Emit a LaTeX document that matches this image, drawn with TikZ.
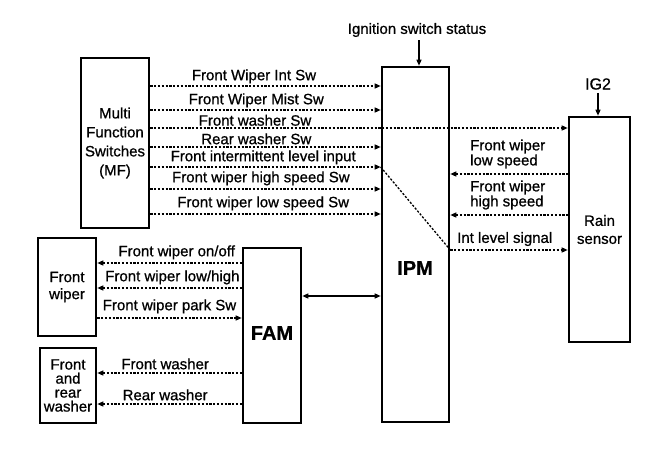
\documentclass[tikz,border=0pt]{standalone}
\usepackage{fontspec}
\setmainfont{Liberation Sans}[FakeBold=0.8]
\usetikzlibrary{arrows.meta}
\begin{document}
\begin{tikzpicture}[x=1pt,y=-1pt,
  box/.style={draw,line width=2.6pt,rectangle,inner sep=0pt,align=center},
  sig/.style={line width=1.3pt,dash pattern=on 2.2pt off 1.6pt},
  sigr/.style={sig,-{Triangle[length=6pt,width=5pt]}},
  sigl/.style={sig,{Triangle[length=6pt,width=5pt]}-},
  lab/.style={inner sep=0pt,font=\fontsize{15}{16}\selectfont},
  big/.style={inner sep=0pt,font=\fontsize{20}{22}\selectfont\bfseries}]
\useasboundingbox (0,0) rectangle (672,456);
% boxes
\node[box,minimum width=68pt,minimum height=170pt,font=\fontsize{15}{19}\selectfont] (mf) at (115,143) {Multi\\Function\\Switches\\(MF)};
\node[box,minimum width=67pt,minimum height=355pt] (ipm) at (415.5,244.5) {};
\node[big] (ipmt) at (415,268) {IPM};
\node[box,minimum width=61pt,minimum height=225pt,font=\fontsize{15}{18}\selectfont] (rain) at (599.5,229.5) {Rain\\sensor};
\node[box,minimum width=58pt,minimum height=98pt,font=\fontsize{15}{17}\selectfont] (fw) at (67,287) {Front\\wiper};
\node[box,minimum width=56pt,minimum height=75pt,font=\fontsize{15}{14}\selectfont] (wash) at (68,385.5) {Front\\and\\rear\\washer};
\node[box,minimum width=58pt,minimum height=175pt] (fam) at (272,335.5) {};
\node[big] (famt) at (272,333) {FAM};
% top inputs
\node[lab] (ign) at (417,30) {Ignition switch status};
\draw[line width=1.3pt,-{Triangle[length=6pt,width=5pt]}] (ign.south -| ipm.north) ++(3.5,3) coordinate (ignc) -- (ignc |- ipm.north);
\node[lab,font=\fontsize{16}{16}\selectfont] (ig2) at (598,84) {IG2};
\draw[line width=1.3pt,-{Triangle[length=6pt,width=5pt]}] (ig2.south) ++(0,3) coordinate (ig2c) -- (ig2c |- rain.north);
% MF -> IPM
\draw[sigr] (mf.east |- 0,86) -- node[lab,above=2pt,pos=0.45] (l1) {Front Wiper Int Sw} (ipm.west |- 0,86);
\draw[sigr] (mf.east |- 0,110) -- node[lab,above=2pt,pos=0.46] (l2) {Front Wiper Mist Sw} (ipm.west |- 0,110);
\draw[sigr] (mf.east |- 0,128) -- (rain.west |- 0,128);
\node[lab,anchor=south] (l3) at (255,126) {Front washer Sw};
\draw[sigr] (mf.east |- 0,147) -- node[lab,above=2pt,pos=0.46] (l4) {Rear washer Sw} (ipm.west |- 0,147);
\draw[sigr] (mf.east |- 0,167) -- node[lab,above=2pt,pos=0.49] (l5) {Front intermittent level input} (ipm.west |- 0,167);
\draw[sigr] (mf.east |- 0,189) -- node[lab,above=3pt,pos=0.48] (l6) {Front wiper high speed Sw} (ipm.west |- 0,189);
\draw[sigr] (mf.east |- 0,214) -- node[lab,above=3pt,pos=0.49] (l7) {Front wiper low speed Sw} (ipm.west |- 0,214);
% diagonal and rain sensor
\coordinate (dg1) at (ipm.west |- 0,167);
\coordinate (dg2) at (ipm.east |- 0,250);
\draw[sig] (dg1) -- (dg2);
\draw[sigr] (dg2) -- (rain.west |- dg2);
\node[lab,anchor=west] (l10) at (457,239) {Int level signal};
\draw[sigl] (ipm.east |- 0,174) -- (rain.west |- 0,174);
\node[lab,anchor=west,align=left,font=\fontsize{15}{15}\selectfont] (l8) at (470,154) {Front wiper\\low speed};
\draw[sigl] (ipm.east |- 0,215) -- (rain.west |- 0,215);
\node[lab,anchor=west,align=left,font=\fontsize{15}{15}\selectfont] (l9) at (470,195) {Front wiper\\high speed};
% FAM <-> IPM
\draw[line width=1.3pt,{Triangle[length=6pt,width=5pt]}-{Triangle[length=6pt,width=5pt]}] (fam.east |- 0,296) -- (ipm.west |- 0,296);
% FAM -> loads
\draw[sigl] (fw.east |- 0,263) -- node[lab,above=3pt,pos=0.55] (b1) {Front wiper on/off} (fam.west |- 0,263);
\draw[sigl] (fw.east |- 0,288) -- node[lab,above=3pt,pos=0.52] (b2) {Front wiper low/high} (fam.west |- 0,288);
\draw[sigr] (fw.east |- 0,318) -- node[lab,above=4pt,pos=0.50] (b3) {Front wiper park Sw} (fam.west |- 0,318);
\draw[sigl] (wash.east |- 0,373) -- node[lab,above=3pt,pos=0.47] (b4) {Front washer} (fam.west |- 0,373);
\draw[sigl] (wash.east |- 0,404) -- node[lab,above=3pt,pos=0.47] (b5) {Rear washer} (fam.west |- 0,404);
\end{tikzpicture}
\end{document}
